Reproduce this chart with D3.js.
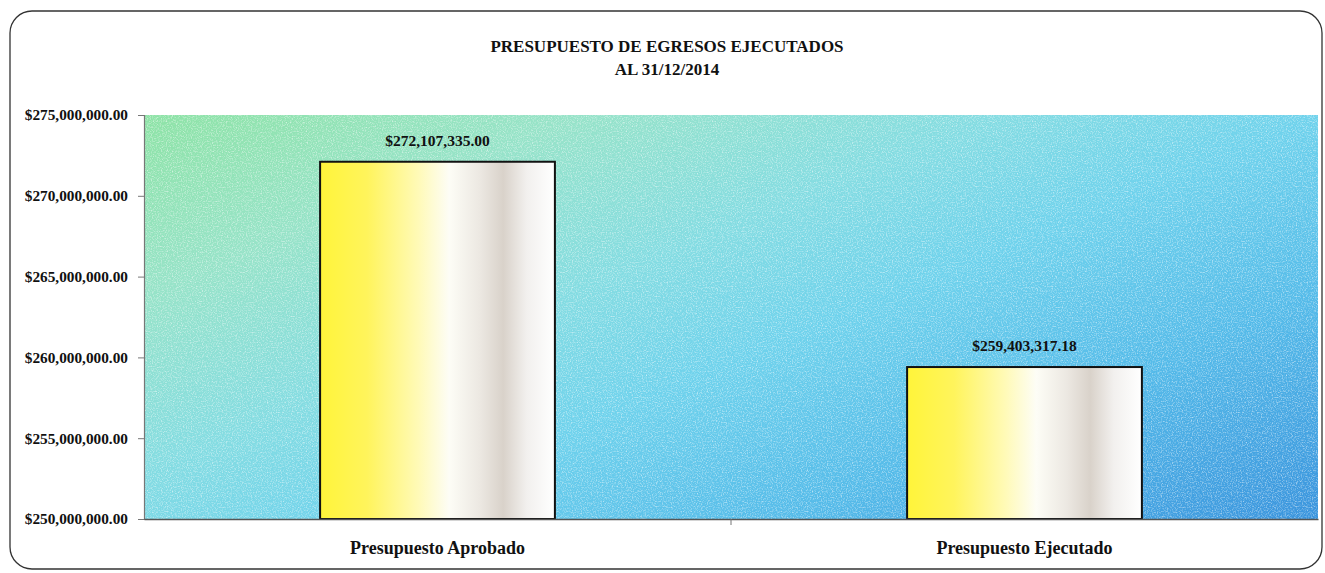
<!DOCTYPE html>
<html>
<head>
<meta charset="utf-8">
<script src="https://cdn.jsdelivr.net/npm/d3@7"></script>
<style>
html,body{margin:0;padding:0;background:#fff;}
svg{display:block;}
text{font-family:"Liberation Serif","DejaVu Serif",serif;font-weight:bold;fill:#111;}
</style>
</head>
<body>
<svg id="chart" width="1325" height="573"></svg>
<script>
const titleLines = ["PRESUPUESTO DE EGRESOS EJECUTADOS", "AL 31/12/2014"];
const categories = ["Presupuesto Aprobado", "Presupuesto Ejecutado"];
const values = [272107335.00, 259403317.18];
const valueLabels = ["$272,107,335.00", "$259,403,317.18"];
const yTicks = [250000000, 255000000, 260000000, 265000000, 270000000, 275000000];
const yDomain = [250000000, 275000000];

const svg = d3.select("#chart");
const m = {left: 144, right: 1318, top: 115, bottom: 519};

const defs = svg.append("defs");
const bg = defs.append("linearGradient").attr("id","bg")
  .attr("gradientUnits","userSpaceOnUse")
  .attr("x1", m.left).attr("y1", m.top).attr("x2", m.left + 321).attr("y2", m.top + 763);
[[0,"#8ee3a6"],[0.2,"#97e3c8"],[0.4,"#84dce2"],[0.55,"#6fd2ec"],[0.75,"#55bbe9"],[1,"#3a94dd"]]
  .forEach(([o,c]) => bg.append("stop").attr("offset",o).attr("stop-color",c));

const bar = defs.append("linearGradient").attr("id","bar")
  .attr("x1","0").attr("y1","0").attr("x2","1").attr("y2","0");
[[0,"#fff43a"],[0.2,"#fff45c"],[0.42,"#fffab8"],[0.55,"#fdfdf6"],[0.68,"#ece8e2"],[0.78,"#d9d2ca"],[0.88,"#f2f0ee"],[1,"#ffffff"]]
  .forEach(([o,c]) => bar.append("stop").attr("offset",o).attr("stop-color",c));

const noise = defs.append("filter").attr("id","noise").attr("x",0).attr("y",0).attr("width","100%").attr("height","100%");
noise.append("feTurbulence").attr("type","fractalNoise").attr("baseFrequency","0.8").attr("numOctaves",2).attr("seed",3).attr("result","t");
noise.append("feColorMatrix").attr("in","t").attr("type","matrix")
  .attr("values","0 0 0 0 1  0 0 0 0 1  0 0 0 0 1  0 0 0 2.2 -1.0");

// outer rounded frame
svg.append("rect").attr("x",10).attr("y",11).attr("width",1312).attr("height",558)
  .attr("rx",22).attr("ry",22).attr("fill","#fff").attr("stroke","#333").attr("stroke-width",1.3);

const x = d3.scaleBand().domain(categories).range([m.left, m.right]).paddingInner(0.6).paddingOuter(0.3);
const y = d3.scaleLinear().domain(yDomain).range([m.bottom, m.top]);

// plot background
svg.append("rect").attr("x",m.left).attr("y",m.top).attr("width",m.right-m.left).attr("height",m.bottom-m.top)
  .attr("fill","url(#bg)");
svg.append("rect").attr("x",m.left).attr("y",m.top).attr("width",m.right-m.left).attr("height",m.bottom-m.top)
  .attr("fill","#fff").attr("filter","url(#noise)").attr("opacity",0.6);

// title
svg.selectAll("text.title").data(titleLines).enter().append("text")
  .attr("class","title").attr("x",667).attr("y",(d,i)=>52+i*23)
  .attr("text-anchor","middle").style("font-size","17px").text(d=>d);

// bars
svg.selectAll("rect.bar").data(values).enter().append("rect")
  .attr("class","bar")
  .attr("x",(d,i)=>x(categories[i])).attr("width",x.bandwidth())
  .attr("y",d=>y(d)).attr("height",d=>y(yDomain[0])-y(d))
  .attr("fill","url(#bar)").attr("stroke","#111").attr("stroke-width",2);

// value labels
svg.selectAll("text.val").data(values).enter().append("text")
  .attr("class","val")
  .attr("x",(d,i)=>x(categories[i])+x.bandwidth()/2)
  .attr("y",d=>y(d)-16)
  .attr("text-anchor","middle").style("font-size","15.5px")
  .text((d,i)=>valueLabels[i]);

// y axis
const yAxis = d3.axisLeft(y).tickValues(yTicks).tickSize(6).tickPadding(10)
  .tickFormat(d => "$" + d3.format(",.2f")(d));
const ga = svg.append("g").attr("transform",`translate(${m.left},0)`).call(yAxis);
ga.select(".domain").attr("stroke","#777").attr("stroke-width",1.2);
ga.selectAll(".tick line").attr("stroke","#777");
ga.selectAll(".tick text").style("font-size","15.3px").style("font-family",'"Liberation Serif",serif').style("font-weight","bold").attr("fill","#111");

// x axis
const xAxis = d3.axisBottom(x).tickSize(0).tickPadding(22);
const gx = svg.append("g").attr("transform",`translate(0,${m.bottom})`).call(xAxis);
gx.select(".domain").attr("stroke","#555").attr("stroke-width",1.5);
gx.selectAll(".tick text").style("font-size","18px").style("font-family",'"Liberation Serif",serif').style("font-weight","bold").attr("fill","#111");
// category separator tick mark
svg.selectAll("line.sep").data([categories[1]]).enter().append("line")
  .attr("x1",d=>x(d)-x.step()*x.paddingInner()/2).attr("x2",d=>x(d)-x.step()*x.paddingInner()/2)
  .attr("y1",m.bottom).attr("y2",m.bottom+6).attr("stroke","#777");
</script>
</body>
</html>
